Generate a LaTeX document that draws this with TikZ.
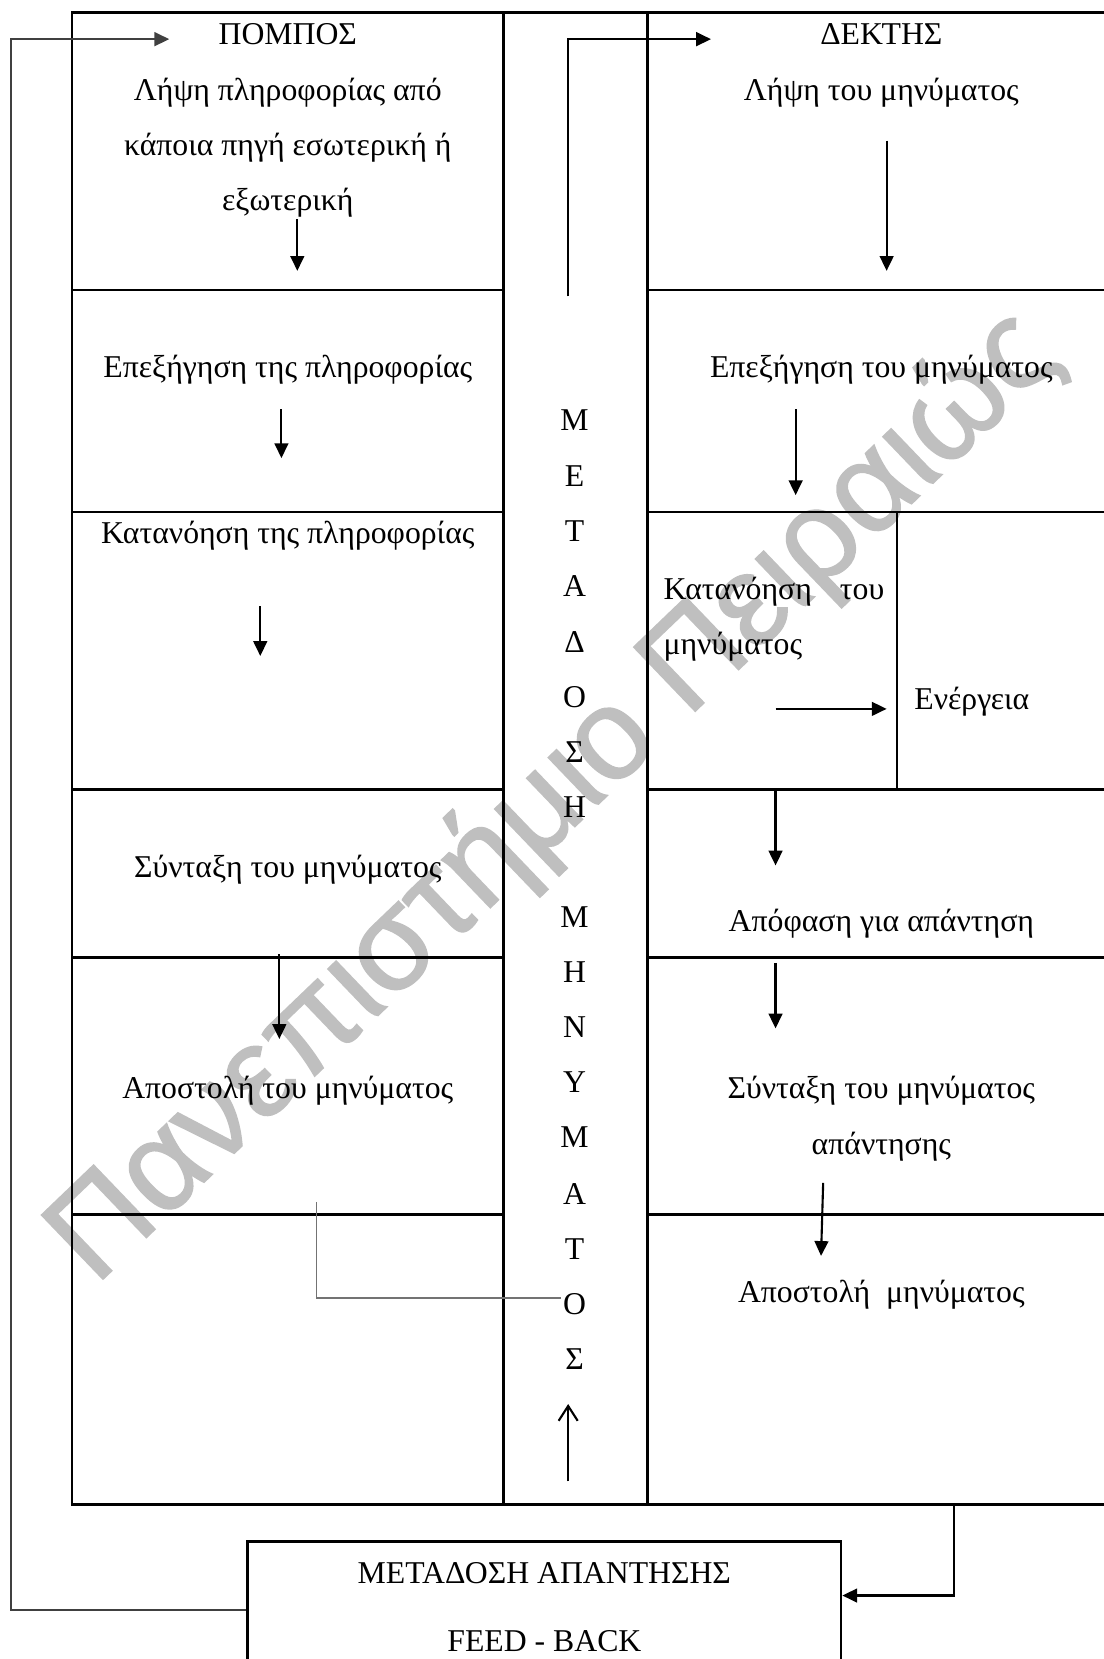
\documentclass[tikz,border=0pt]{standalone}
\usepackage{fontspec}
\setmainfont{Liberation Serif}
\newfontfamily\wmfont[FakeBold=1.2]{Liberation Sans}
\usetikzlibrary{arrows.meta,calc}
\begin{document}
\begin{tikzpicture}[x=1pt,y=-1pt,
  grid/.style={line width=2.3pt, line cap=rect},
  txt/.style={font=\fontsize{30}{52}\selectfont, inner sep=0pt, anchor=base},
  txtw/.style={txt, anchor=base west},
  txte/.style={txt, anchor=base east},
  arr/.style={line width=2pt, -{Triangle[length=14pt,width=13pt]}},
  openarr/.style={line width=2pt, -{Straight Barb[length=14pt,width=18pt]}},
  gline/.style={line width=1.6pt, draw=black!55},
  fbbox/.style={draw, line width=2.3pt, minimum width=561pt, minimum height=130pt, inner sep=0pt},
  wm/.style={font=\wmfont\fontsize{122}{122}\selectfont, text=black!25, inner sep=0pt, rotate=43.8, anchor=base west}
]
\useasboundingbox (0,0) rectangle (1043,1568);

% watermark
\node[wm] (wmark) at (90,1216) {Πανεπιστήμιο Πειραιώς};

% main grid
\draw[grid] (1043,12) -- (68,12) -- (68,1422) -- (1043,1422);
\draw[grid] (476,12) -- (476,1422);
\draw[grid] (612,12) -- (612,1422);
\foreach \yy in {274,484,746,905,1148} {
  \draw[grid] (68,\yy) -- (476,\yy);
  \draw[grid] (612,\yy) -- (1043,\yy);
}
\draw[grid] (848,484) -- (848,746);

% left column texts
\node[txt] (pompos) at (272,42) {ΠΟΜΠΟΣ};
\node[txt] (l1a) at (272,95) {Λήψη πληροφορίας από};
\node[txt] (l1b) at (272,147) {κάποια πηγή εσωτερική ή};
\node[txt] (l1c) at (272,199) {εξωτερική};
\node[txt] (l2) at (272,357) {Επεξήγηση της πληροφορίας};
\node[txt] (l3) at (272,514) {Κατανόηση της πληροφορίας};
\node[txt] (l4) at (272,829) {Σύνταξη του μηνύματος};
\node[txt] (l5) at (272,1038) {Αποστολή του μηνύματος};

% right column texts
\node[txt] (dektis) at (833,42) {ΔΕΚΤΗΣ};
\node[txt] (r1) at (833,95) {Λήψη του μηνύματος};
\node[txt] (r2) at (833,357) {Επεξήγηση του μηνύματος};
\node[txtw] (r3a) at (627,567) {Κατανόηση};
\node[txte] (r3b) at (836,567) {του};
\node[txtw] (r3c) at (627,619) {μηνύματος};
\node[txtw] (act) at (864,671) {Ενέργεια};
\node[txt] (r4) at (833,880) {Απόφαση για απάντηση};
\node[txt] (r5a) at (833,1038) {Σύνταξη του μηνύματος};
\node[txt] (r5b) at (833,1091) {απάντησης};
\node[txt] (r6) at (833,1231) {Αποστολή\ \ μηνύματος};

% middle column letters
\foreach \ch/\yy [count=\i] in {Μ/407,Ε/460,Τ/512,Α/564,Δ/617,Ο/669,Σ/721,Η/773,Μ/877,Η/929,Ν/981,Υ/1033,Μ/1085,Α/1138,Τ/1190,Ο/1242,Σ/1294} {
  \node[txt] (m\i) at (543,\yy) {\ch};
}

% feedback box
\node[fbbox] (fb) at (514.5,1522) {};
\node[txt] (fbt1) at (514.5,1497) {ΜΕΤΑΔΟΣΗ ΑΠΑΝΤΗΣΗΣ};
\node[txt] (fbt2) at (514.5,1561) {FEED - BACK};

% left column arrows
\coordinate (a1s) at (281,207); \coordinate (a1e) at (281,256);
\coordinate (a2s) at (266,387); \coordinate (a2e) at (266,433);
\coordinate (a3s) at (246,573); \coordinate (a3e) at (246,620);
\coordinate (a4s) at (264,902); \coordinate (a4e) at (264,982);
\draw[arr] (a1s) -- (a1e);
\draw[arr] (a2s) -- (a2e);
\draw[arr] (a3s) -- (a3e);
\draw[arr] (a4s) -- (a4e);

% right column arrows
\coordinate (b1s) at (838,133); \coordinate (b1e) at (838,256);
\coordinate (b2s) at (752,387); \coordinate (b2e) at (752,468);
\coordinate (b3s) at (733,670); \coordinate (b3e) at (838,670);
\coordinate (b4s) at (733,745); \coordinate (b4e) at (733,818);
\coordinate (b5s) at (733,910); \coordinate (b5e) at (733,972);
\coordinate (b6s) at (778,1118); \coordinate (b6e) at (776,1187);
\draw[arr] (b1s) -- (b1e);
\draw[arr] (b2s) -- (b2e);
\draw[arr] (b3s) -- (b3e);
\draw[arr] (b4s) -- (b4e);
\draw[arr] (b5s) -- (b5e);
\draw[arr] (b6s) -- (b6e);

% middle arrows
\coordinate (mts) at (537,280); \coordinate (mte) at (672,37);
\draw[arr] (mts) |- (mte);
\coordinate (mbs) at (537,1400); \coordinate (mbe) at (537,1327);
\draw[openarr] (mbs) -- (mbe);

% gray connector from Αποστολή του μηνύματος towards the middle column
\coordinate (gs) at (299,1136); \coordinate (ge) at (530,1227);
\draw[gline] (gs) |- (ge);

% feedback loops
\coordinate (rfs) at (902,1422); \coordinate (rfy) at (0,1508);
\draw[line width=2pt, -{Triangle[length=14pt,width=13pt]}] (rfs) -- (rfs |- rfy) -- (fb.east |- rfy);
\coordinate (lfc) at (10,1522); \coordinate (lft) at (10,37); \coordinate (lfe) at (160,37);
\draw[line width=1.9pt, draw=black!75, -{Triangle[length=14pt,width=13pt]}] (fb.west) -- (lfc) -- (lft) -- (lfe);
\end{tikzpicture}
\end{document}
